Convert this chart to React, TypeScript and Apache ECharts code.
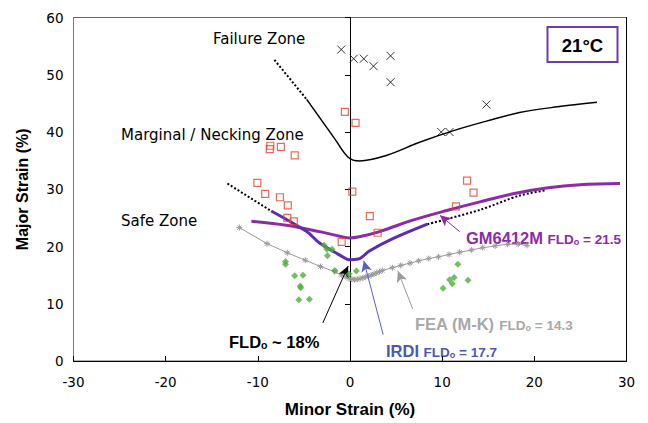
import React, { useEffect, useRef } from 'react';
import * as echarts from 'echarts';

// Measured forming-limit points (minor %, major %)
const failurePts = [[-0.95, 54.4], [0.4, 52.8], [1.5, 52.8], [2.55, 51.5], [4.4, 53.3], [4.4, 48.7], [14.8, 44.8], [9.9, 40.0], [10.8, 40.0]];
const marginalPts = [[-0.55, 43.5], [0.6, 41.6], [-8.65, 37.6], [-8.7, 37.0], [-7.5, 37.4], [-6.0, 35.9], [-10.05, 31.1], [-9.2, 29.2], [-7.6, 28.6], [-6.75, 27.2], [-6.8, 25.0], [-6.1, 24.4], [0.25, 29.6], [2.15, 25.3], [3.0, 22.4], [12.7, 31.5], [13.4, 29.4], [11.5, 27.0], [-0.9, 20.8]];
const safePts = [[-2.8, 20.2], [-2.5, 19.5], [-1.95, 19.5], [-2.45, 18.4], [-7.0, 17.4], [-7.0, 16.9], [-1.65, 15.8], [0.7, 15.7], [-0.1, 15.2], [-6.0, 14.9], [-5.1, 15.0], [-5.4, 13.1], [-5.35, 12.8], [-5.55, 10.7], [-4.4, 10.8], [11.7, 16.9], [10.8, 14.2], [11.3, 14.6], [11.1, 13.5], [12.8, 14.1], [10.1, 12.7]];
// FEA (M-K) predicted curve
const feaCurve = [[-12.0, 23.3], [-9.0, 20.5], [-6.8, 18.9], [-4.85, 17.6], [-3.2, 16.5], [-1.65, 15.6], [-0.9, 15.0], [-0.45, 14.7], [-0.1, 14.4], [0.2, 14.3], [0.5, 14.2], [0.8, 14.3], [1.1, 14.4], [1.4, 14.5], [1.7, 14.7], [2.0, 14.8], [2.3, 15.0], [2.6, 15.2], [2.9, 15.4], [3.2, 15.6], [3.5, 15.8], [4.6, 16.3], [5.5, 16.7], [6.5, 17.1], [7.45, 17.5], [8.55, 17.9], [9.6, 18.2], [10.75, 18.6], [11.9, 19.0], [13.2, 19.4], [14.4, 19.8], [15.75, 20.1], [17.1, 20.4], [18.25, 20.4], [19.2, 20.2]];
// Failure-limit curve and its dotted extension
const failureCurve = [[-4.7, 45.7], [-1.65, 38.8], [-0.2, 35.6], [1.05, 34.95], [3.95, 35.9], [7.55, 38.2], [11.15, 40.2], [14.8, 41.9], [18.4, 43.4], [22.5, 44.4], [26.8, 45.2]];
const failureDotted = [[-8.2, 52.6], [-4.7, 45.7]];
// GM6412M curve
const gmCurve = [[-10.7, 24.4], [-6.9, 23.7], [-3.3, 22.6], [-1.1, 21.8], [-0.1, 21.5], [1.0, 21.7], [3.2, 22.6], [6.8, 24.6], [10.5, 26.3], [14.1, 27.8], [17.7, 29.2], [21.3, 30.2], [24.95, 30.8], [29.3, 31.0]];
// IRDI curve and its dotted extensions
const irdiCurve = [[-8.55, 26.2], [-4.7, 22.6], [-3.3, 20.6], [-1.1, 18.5], [-0.1, 17.7], [0.9, 17.8], [2.1, 19.2], [4.7, 21.4], [8.4, 23.9]];
const irdiDottedLeft = [[-13.3, 31.0], [-8.55, 26.2]];
const irdiDottedRight = [[8.4, 23.9], [14.1, 26.4], [18.4, 28.9], [21.2, 29.8]];
// annotation arrows: [from, to]
const arrowBlack = [[-2.95, 6.65], [-0.2, 16.6]];
const arrowIrdi = [[3.6, 4.6], [1.5, 17.5]];
const arrowFea = [[6.8, 9.1], [5.2, 15.7]];
const arrowGm = [[11.9, 22.6], [9.75, 25.45]];

const xMin = -30, xMax = 30, yMin = 0, yMax = 60, tickStep = 10;

const PURPLE = '#8D2AA6';
const IRDI = '#5B2DB0';
const IRDI_TXT = '#4A57BC';
const GRAY = '#9A9A9A';

const big = { fontFamily: 'Liberation Sans', fontWeight: 'bold', fontSize: 16.5, lineHeight: 20, verticalAlign: 'bottom' };
const small = { fontFamily: 'Liberation Sans', fontWeight: 'bold', fontSize: 13.5, lineHeight: 17, verticalAlign: 'bottom' };
const sub = { fontFamily: 'Liberation Sans', fontWeight: 'bold', fontSize: 9, lineHeight: 8, verticalAlign: 'bottom' };
const subBig = { fontFamily: 'Liberation Sans', fontWeight: 'bold', fontSize: 10.5, lineHeight: 9, verticalAlign: 'bottom' };

function richText(x: number, y: number, text: string, fill: string) {
  return {
    type: 'text', x, y, silent: true,
    style: { text, fill, align: 'left', verticalAlign: 'middle', rich: { b: big, s: small, o: sub, ob: subBig } },
  };
}
function plainText(x: number, y: number, text: string) {
  return {
    type: 'text', x, y, silent: true,
    style: { text, fill: '#000', align: 'left', verticalAlign: 'middle', fontFamily: 'DejaVu Sans', fontSize: 15 },
  };
}

function arrowPair(a: number[][], color: string) {
  return [
    { coord: a[0], lineStyle: { color, width: 1, type: 'solid' }, itemStyle: { color } },
    { coord: a[1], lineStyle: { color, width: 1, type: 'solid' }, itemStyle: { color } },
  ];
}

const X_PATH = 'path://M0,0L10,10M10,0L0,10';
const STAR_PATH = 'path://M5,0L5,10M0,5L10,5M1.5,1.5L8.5,8.5M8.5,1.5L1.5,8.5';

export default function App() {
  const ref = useRef<HTMLDivElement>(null);
  useEffect(() => {
    const chart = echarts.init(ref.current!, null, { renderer: 'svg' });
    const option: any = {
      animation: false,
      backgroundColor: '#fff',
      grid: { left: 73.5, right: 21.5, top: 17.5, bottom: 59.7, show: true, borderColor: '#666', borderWidth: 1 },
      xAxis: {
        type: 'value', min: xMin, max: xMax, interval: tickStep,
        axisLine: { onZero: false, lineStyle: { color: '#000', width: 1 } },
        axisTick: { inside: true, length: 5, lineStyle: { color: '#000' } },
        axisLabel: { fontFamily: 'DejaVu Sans', fontSize: 13.5, color: '#000', margin: 14 },
        splitLine: { show: false },
        name: 'Minor Strain (%)', nameLocation: 'middle', nameGap: 40,
        nameTextStyle: { fontFamily: 'Liberation Sans', fontWeight: 'bold', fontSize: 17, color: '#000' },
      },
      yAxis: [
        {
          type: 'value', min: yMin, max: yMax, interval: tickStep, position: 'left',
          axisLine: { onZero: false, lineStyle: { color: '#777', width: 1 } },
          axisTick: { show: false },
          axisLabel: { fontFamily: 'DejaVu Sans', fontSize: 13.5, color: '#000', margin: 10 },
          splitLine: { show: false },
          name: 'Major Strain (%)', nameLocation: 'middle', nameGap: 43, nameRotate: 90,
          nameTextStyle: { fontFamily: 'Liberation Sans', fontWeight: 'bold', fontSize: 16, color: '#000' },
        },
        {
          type: 'value', min: yMin, max: yMax, interval: tickStep, position: 'left',
          axisLine: { show: true, onZero: true, lineStyle: { color: '#000', width: 1 } },
          axisTick: { show: true, length: 5, lineStyle: { color: '#000' } },
          axisLabel: { show: false },
          splitLine: { show: false },
        },
        {
          type: 'value', min: yMin, max: yMax, interval: tickStep, position: 'right',
          axisLine: { show: true, onZero: false, lineStyle: { color: '#000', width: 1 } },
          axisTick: { show: false },
          axisLabel: { show: false },
          splitLine: { show: false },
        },
      ],
      series: [
        {
          type: 'line', data: feaCurve, symbol: STAR_PATH, symbolSize: 6, showSymbol: true,
          lineStyle: { color: GRAY, width: 1 }, itemStyle: { color: 'none', borderColor: GRAY, borderWidth: 1 }, z: 3,
        },
        {
          type: 'line', data: failureCurve, smooth: 0.35, symbol: 'none',
          lineStyle: { color: '#000', width: 1.5 }, z: 4,
        },
        {
          type: 'line', data: failureDotted, symbol: 'none',
          lineStyle: { color: '#000', width: 2, type: [2, 2] }, z: 4,
        },
        {
          type: 'line', data: irdiDottedLeft, symbol: 'none',
          lineStyle: { color: '#000', width: 2, type: [2, 2] }, z: 4,
        },
        {
          type: 'line', data: irdiDottedRight, smooth: 0.3, symbol: 'none',
          lineStyle: { color: '#000', width: 2, type: [2, 2] }, z: 4,
        },
        {
          type: 'line', data: gmCurve, smooth: 0.35, symbol: 'none',
          lineStyle: { color: PURPLE, width: 3 }, z: 5,
        },
        {
          type: 'line', data: irdiCurve, smooth: 0.35, symbol: 'none',
          lineStyle: { color: IRDI, width: 3 }, z: 5,
        },
        {
          type: 'scatter', data: failurePts, symbol: X_PATH, symbolSize: 8,
          itemStyle: { color: 'none', borderColor: '#000', borderWidth: 1 }, z: 6,
        },
        {
          type: 'scatter', data: marginalPts, symbol: 'rect', symbolSize: 7,
          itemStyle: { color: 'rgba(255,255,255,0)', borderColor: '#E8432A', borderWidth: 1.2 }, z: 6,
        },
        {
          type: 'scatter', data: safePts, symbol: 'diamond', symbolSize: 7,
          itemStyle: { color: '#4FAE3C' }, z: 6,
        },
        {
          type: 'line', data: [], symbol: 'none', z: 7,
          markLine: {
            silent: true, symbol: ['none', 'arrow'], symbolSize: [8, 11], label: { show: false },
            data: [
              arrowPair(arrowBlack, '#000'),
              arrowPair(arrowIrdi, '#5A5FC8'),
              arrowPair(arrowFea, GRAY),
              arrowPair(arrowGm, PURPLE),
            ],
          },
        },
      ],
      graphic: [
        plainText(213, 38.5, 'Failure Zone'),
        plainText(121, 134.5, 'Marginal / Necking Zone'),
        plainText(121, 221, 'Safe Zone'),
        {
          type: 'rect', shape: { x: 547.5, y: 27, width: 70, height: 35 },
          style: { fill: '#fff', stroke: '#6A3DAD', lineWidth: 2 }, z: 10,
        },
        {
          type: 'text', x: 582.5, y: 45, z: 11,
          style: { text: '21°C', fill: '#000', align: 'center', verticalAlign: 'middle', fontFamily: 'Liberation Sans', fontWeight: 'bold', fontSize: 18.5 },
        },
        richText(466, 236.5, '{b|GM6412M }{s|FLD}{o|o}{s| = 21.5}', PURPLE),
        richText(415, 322, '{b|FEA (M-K) }{s|FLD}{o|o}{s| = 14.3}', '#A8A8A8'),
        richText(386, 349, '{b|IRDI }{s|FLD}{o|o}{s| = 17.7}', IRDI_TXT),
        richText(229, 340.5, '{b|FLD}{ob|o}{b| ~ 18%}', '#000'),
      ],
    };
    chart.setOption(option);
    return () => chart.dispose();
  }, []);
  return <div ref={ref} style={{ position: 'fixed', left: 0, top: 0, width: 648, height: 423, background: '#fff' }} />;
}
